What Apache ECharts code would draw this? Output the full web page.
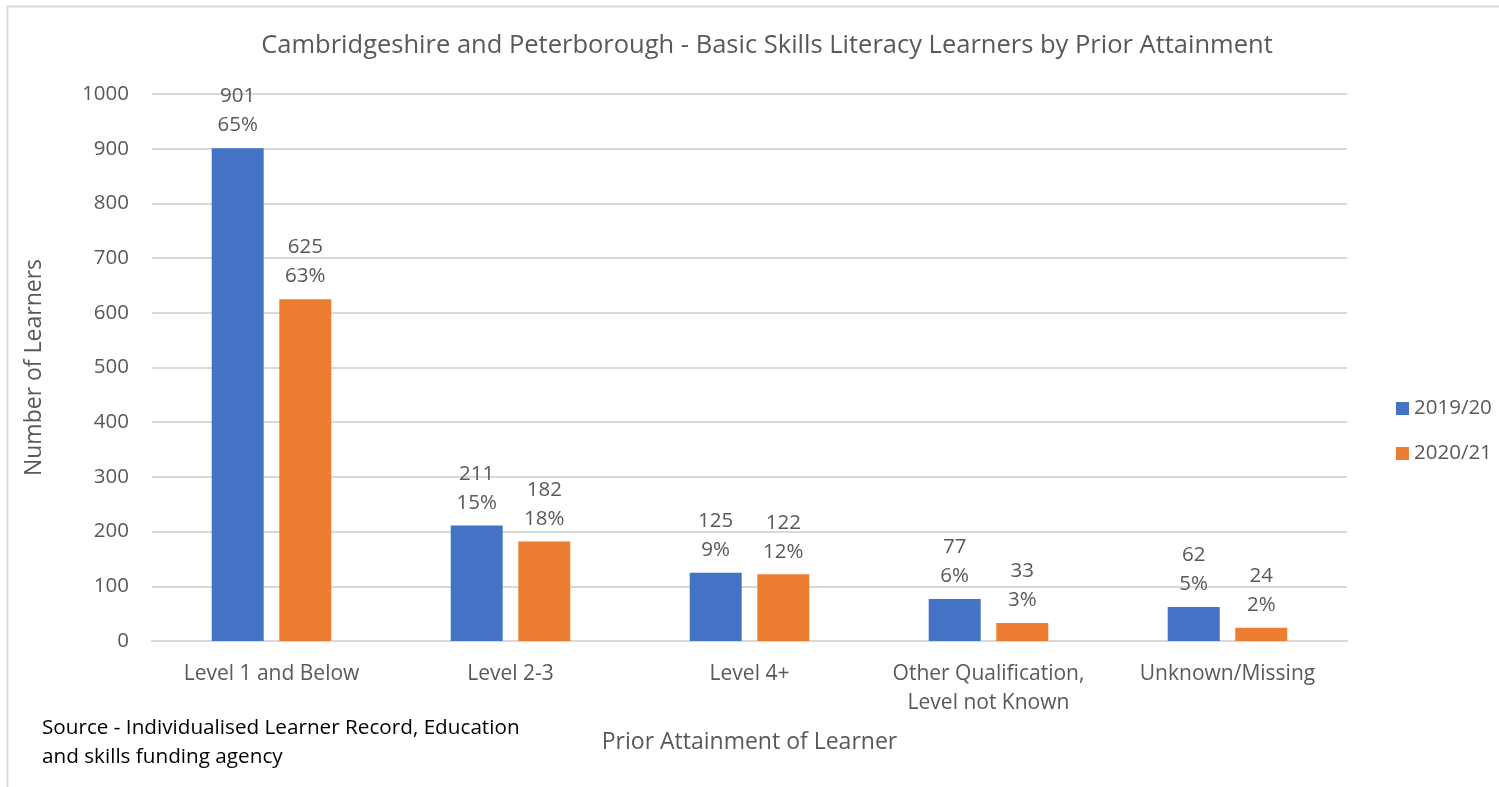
<!DOCTYPE html>
<html><head><meta charset="utf-8">
<script src="https://cdn.jsdelivr.net/npm/echarts@6/dist/echarts.min.js"></script>
<style>html,body{margin:0;padding:0;background:#fff}#c{width:1499px;height:787px}</style>
</head><body><div id="c"></div>
<script>
const categories = ['Level 1 and Below', 'Level 2-3', 'Level 4+', 'Other Qualification,\nLevel not Known', 'Unknown/Missing'];
const seriesNames = ['2019/20', '2020/21'];
const values2019 = [901, 211, 125, 77, 62];
const values2020 = [625, 182, 122, 33, 24];
const pct2019 = ['65%', '15%', '9%', '6%', '5%'];
const pct2020 = ['63%', '18%', '12%', '3%', '2%'];
const yTicks = [0, 100, 200, 300, 400, 500, 600, 700, 800, 900, 1000];

const FONT = '"Open Sans"';
const GREY = '#595959';
const chart = echarts.init(document.getElementById('c'));
function lbl(pcts) {
  return {
    show: true, position: 'top', distance: 8,
    color: GREY, fontFamily: FONT, fontSize: 20.5, lineHeight: 29,
    formatter: p => p.value + '\n' + pcts[p.dataIndex]
  };
}
chart.setOption({
  backgroundColor: '#fff',
  animation: false,
  title: {
    text: 'Cambridgeshire and Peterborough - Basic Skills Literacy Learners by Prior Attainment',
    left: 762, top: 28, textAlign: 'center',
    textStyle: { color: GREY, fontFamily: FONT, fontSize: 25.5, fontWeight: 'normal' }
  },
  legend: {
    orient: 'vertical', left: 1391, top: 393,
    itemWidth: 13, itemHeight: 13, itemGap: 24,
    icon: 'rect',
    textStyle: { color: GREY, fontFamily: FONT, fontSize: 20.5 },
    data: seriesNames
  },
  grid: { left: 152, right: 152, top: 94, bottom: 146 },
  xAxis: {
    type: 'category', data: categories,
    axisLine: { lineStyle: { color: '#d9d9d9', width: 2 } },
    axisTick: { show: false },
    axisLabel: { color: GREY, fontFamily: FONT, fontSize: 21, lineHeight: 29, margin: 19, interval: 0 },
    name: 'Prior Attainment of Learner', nameLocation: 'middle', nameGap: 90,
    nameTextStyle: { color: GREY, fontFamily: FONT, fontSize: 23 }
  },
  yAxis: {
    type: 'value', min: yTicks[0], max: yTicks[yTicks.length - 1], interval: 100,
    axisLine: { show: false }, axisTick: { show: false },
    splitLine: { lineStyle: { color: '#d9d9d9', width: 2 } },
    axisLabel: { color: GREY, fontFamily: FONT, fontSize: 20.5, margin: 23, formatter: v => String(v) },
    name: 'Number of Learners', nameLocation: 'middle', nameGap: 106, nameRotate: 90,
    nameTextStyle: { color: GREY, fontFamily: FONT, fontSize: 23 }
  },
  series: [
    { name: seriesNames[0], type: 'bar', data: values2019, barWidth: 52, barGap: '30%',
      itemStyle: { color: '#4472C4' }, label: lbl(pct2019) },
    { name: seriesNames[1], type: 'bar', data: values2020, barWidth: 52,
      itemStyle: { color: '#ED7D31' }, label: lbl(pct2020) }
  ],
  graphic: [
    { type: 'rect', shape: { x: 7.5, y: 6.5, width: 1600, height: 900 },
      style: { fill: 'none', stroke: '#d9d9d9', lineWidth: 2 }, silent: true },
    { type: 'text', left: 42, top: 714,
      style: { text: 'Source - Individualised Learner Record, Education\nand skills funding agency',
        fill: '#000', font: '20.7px ' + FONT, lineHeight: 29 } }
  ]
});
</script></body></html>
